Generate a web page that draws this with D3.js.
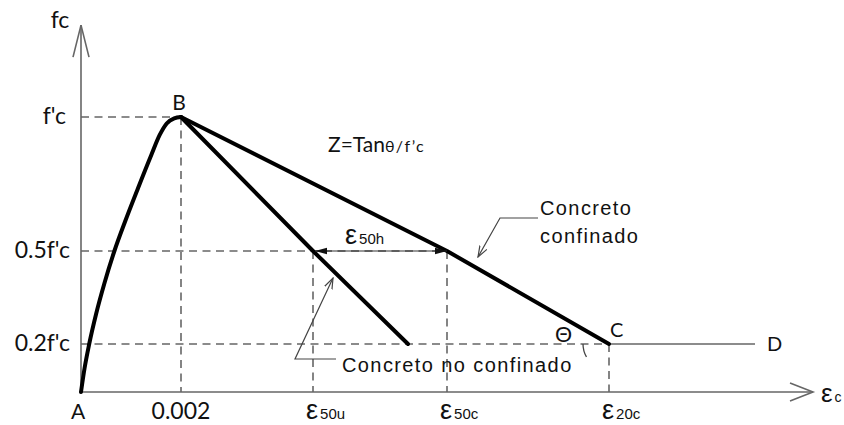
<!DOCTYPE html>
<html>
<head>
<meta charset="utf-8">
<script src="https://cdn.jsdelivr.net/npm/d3@7"></script>
<style>
  body { margin: 0; background: #fff; }
  svg { display: block; }
  .lbl { font-family: Lato, "Open Sans", sans-serif; fill: #111; }
  .arial { font-family: "Liberation Sans", Arial, sans-serif; fill: #111; }
</style>
</head>
<body>
<div id="chart"></div>
<script>
// strain (x) and stress ratio fc/f'c (y)
var strainMax = 0.01464
    , stressTop = 1.343

    , stressLevels = [0.2, 0.5, 1]
    , stressLabels = ["0.2f'c", "0.5f'c", "f'c"]

    , eps0 = 0.002
    , eps50u = 0.00464
    , eps50c = 0.00732
    , eps20c = 0.01056
    , epsD = 0.01348

    , strainTicks = [eps50u, eps50c, eps20c]
    , strainSubs = ["50u", "50c", "20c"]

    , risingCurve = [
        [0, 0], [0.000072, 0.1], [0.000164, 0.2], [0.000302, 0.297], [0.00047, 0.397],
        [0.000668, 0.5], [0.00088, 0.609], [0.00114, 0.734], [0.001406, 0.858],
        [0.001574, 0.933], [0.001714, 0.976], [0.001864, 0.995], [0.002, 1]
      ]
    , unconfinedCurve = [[eps0, 1], [eps50u, 0.5], [0.00654, 0.2]]
    , confinedCurve = [[eps0, 1], [eps50c, 0.5], [eps20c, 0.2]]
    , plateau = [[eps20c, 0.2], [epsD, 0.2]]
    ;

var W = 844, H = 425;
var margin = {top: 25, right: 31, bottom: 33, left: 81};

var svg = d3.select("#chart").append("svg")
    .attr("width", W)
    .attr("height", H);

var x = d3.scaleLinear()
    .domain([0, strainMax])
    .range([margin.left, W - margin.right]);

// schematic: the stress levels are not evenly spaced in the drawing
var y = d3.scaleLinear()
    .domain([0, 0.2, 0.5, 1])
    .range([392, 344, 251, 117]);

var line_gen = d3.line()
    .x(d => x(d[0]))
    .y(d => y(d[1]));

var axisColor = "#666";

var defs = svg.append("defs");
defs.append("marker")
    .attr("id", "open")
    .attr("viewBox", "0 0 12 10")
    .attr("refX", 11).attr("refY", 5)
    .attr("markerWidth", 12).attr("markerHeight", 10)
    .attr("markerUnits", "userSpaceOnUse")
    .attr("orient", "auto")
    .append("path")
    .attr("d", "M0,1 L11,5 L0,9")
    .attr("fill", "none")
    .attr("stroke", "#444")
    .attr("stroke-width", 1.2);

defs.append("marker")
    .attr("id", "solid")
    .attr("viewBox", "0 0 12 8")
    .attr("refX", 12).attr("refY", 4)
    .attr("markerWidth", 12).attr("markerHeight", 8)
    .attr("markerUnits", "userSpaceOnUse")
    .attr("orient", "auto-start-reverse")
    .append("path")
    .attr("d", "M0,0.8 L12,4 L0,7.2 Z")
    .attr("fill", "#111");

// dashed guides
var guides = svg.append("g")
    .attr("stroke", axisColor)
    .attr("stroke-width", 1.6)
    .attr("stroke-dasharray", "8,5.5")
    .attr("fill", "none");

[[0, 1, eps0], [0, 0.5, eps50c], [0, 0.2, eps20c]].forEach(function(d) {
    guides.append("line")
        .attr("x1", x(d[0])).attr("x2", x(d[2]))
        .attr("y1", y(d[1])).attr("y2", y(d[1]));
});
[[eps0, 1], [eps50u, 0.5], [eps50c, 0.5], [eps20c, 0.2]].forEach(function(d) {
    guides.append("line")
        .attr("x1", x(d[0])).attr("x2", x(d[0]))
        .attr("y1", y(d[1])).attr("y2", y(0));
});

// axes
var axes = svg.append("g")
    .attr("stroke", axisColor)
    .attr("stroke-width", 1.6)
    .attr("fill", "none");

axes.append("line")
    .attr("x1", x(0)).attr("x2", x(0))
    .attr("y1", y(0)).attr("y2", y(stressTop));
axes.append("path")
    .attr("d", "M" + (x(0) - 8) + "," + (y(stressTop) + 32) + "L" + x(0) + "," + y(stressTop) +
        "L" + (x(0) + 8) + "," + (y(stressTop) + 32));

axes.append("line")
    .attr("x1", x(0)).attr("x2", x(strainMax))
    .attr("y1", y(0)).attr("y2", y(0));
axes.append("path")
    .attr("d", "M" + (x(strainMax) - 23) + "," + (y(0) - 9) + "L" + x(strainMax) + "," + y(0) +
        "L" + (x(strainMax) - 23) + "," + (y(0) + 9));

// plateau C-D
svg.append("path")
    .attr("d", line_gen(plateau))
    .attr("fill", "none")
    .attr("stroke", axisColor)
    .attr("stroke-width", 1.6);

// angle arc at C
var segAngle = Math.atan2(y(confinedCurve[1][1]) - y(confinedCurve[2][1]), x(confinedCurve[2][0]) - x(confinedCurve[1][0]));
svg.append("path")
    .attr("transform", "translate(" + x(eps20c) + "," + y(0.2) + ")")
    .attr("d", d3.arc()({innerRadius: 26, outerRadius: 26, startAngle: -Math.PI / 2, endAngle: -Math.PI / 2 + segAngle}))
    .attr("fill", "none")
    .attr("stroke", "#444")
    .attr("stroke-width", 1.3);

// curves
var curves = svg.append("g")
    .attr("fill", "none")
    .attr("stroke", "#000")
    .attr("stroke-width", 4)
    .attr("stroke-linejoin", "round")
    .attr("stroke-linecap", "round");

curves.append("path")
    .attr("d", d3.line().x(d => x(d[0])).y(d => y(d[1])).curve(d3.curveMonotoneX)(risingCurve));
curves.append("path").attr("d", line_gen(unconfinedCurve));
curves.append("path").attr("d", line_gen(confinedCurve));

// eps50h double arrow
svg.append("line")
    .attr("x1", x(eps50u) + 2).attr("x2", x(eps50c))
    .attr("y1", y(0.5)).attr("y2", y(0.5))
    .attr("stroke", "#333")
    .attr("stroke-width", 1.2)
    .attr("marker-start", "url(#solid)")
    .attr("marker-end", "url(#solid)");

// leader lines
svg.append("path")
    .attr("d", "M538,218 L500,218 L478,257")
    .attr("fill", "none").attr("stroke", "#444").attr("stroke-width", 1.2)
    .attr("marker-end", "url(#open)");
svg.append("path")
    .attr("d", "M336,359 L295,359 L333,278")
    .attr("fill", "none").attr("stroke", "#444").attr("stroke-width", 1.2)
    .attr("marker-end", "url(#open)");

// text
function epsLabel(px, py, sub, big, small) {
    var t = svg.append("text").attr("class", "arial")
        .attr("x", px).attr("y", py);
    t.append("tspan").attr("font-size", big || 27).text("ε");
    t.append("tspan").attr("font-size", small || 15).attr("dx", 2).text(sub);
}

svg.append("text").attr("class", "lbl")
    .attr("x", x(0) - 21).attr("y", y(stressTop) + 3)
    .attr("text-anchor", "middle").attr("font-size", 23).text("fc");

svg.selectAll(".ylab")
    .data(stressLevels)
    .enter().append("text")
    .attr("class", "lbl ylab")
    .attr("x", (d, i) => i === 2 ? 66 : 70)
    .attr("y", d => y(d) + 7)
    .attr("text-anchor", "end")
    .attr("font-size", 23)
    .text((d, i) => stressLabels[i]);

svg.append("text").attr("class", "lbl")
    .attr("x", x(0) - 3).attr("y", 419)
    .attr("text-anchor", "middle").attr("font-size", 21).text("A");
svg.append("text").attr("class", "lbl")
    .attr("x", x(eps0)).attr("y", 419)
    .attr("text-anchor", "middle").attr("font-size", 23).text(String(eps0));
svg.append("text").attr("class", "lbl")
    .attr("x", x(eps0) - 2).attr("y", y(1) - 7)
    .attr("text-anchor", "middle").attr("font-size", 21).text("B");
svg.append("text").attr("class", "lbl")
    .attr("x", x(eps20c) + 1).attr("y", y(0.2) - 7)
    .attr("font-size", 20).text("C");
svg.append("text").attr("class", "lbl")
    .attr("x", x(epsD) + 12).attr("y", y(0.2) + 7)
    .attr("font-size", 20).text("D");

strainTicks.forEach(function(v, i) {
    epsLabel(x(v) - 7, 419, strainSubs[i]);
});
epsLabel(x(strainMax) + 8, 402, "c", 26, 14);
epsLabel(x(eps50u) + 32, y(0.5) - 7, "50h");

svg.append("text").attr("class", "arial")
    .attr("x", x(eps20c) - 54).attr("y", y(0.2) - 2)
    .attr("font-size", 22).text("Θ");

var z = svg.append("text").attr("class", "lbl")
    .attr("x", 328).attr("y", 152);
z.append("tspan").attr("font-size", 21).text("Z=Tan");
z.append("tspan").attr("font-size", 16).attr("letter-spacing", 1.5).text("θ/f’c");

svg.append("text").attr("class", "arial")
    .attr("x", 540).attr("y", 215)
    .attr("font-size", 20).attr("letter-spacing", 1.4).text("Concreto");
svg.append("text").attr("class", "arial")
    .attr("x", 540).attr("y", 243)
    .attr("font-size", 20).attr("letter-spacing", 1.4).text("confinado");
svg.append("text").attr("class", "arial")
    .attr("x", 342).attr("y", 372)
    .attr("font-size", 20).attr("letter-spacing", 1.4).text("Concreto no confinado");
</script>
</body>
</html>
